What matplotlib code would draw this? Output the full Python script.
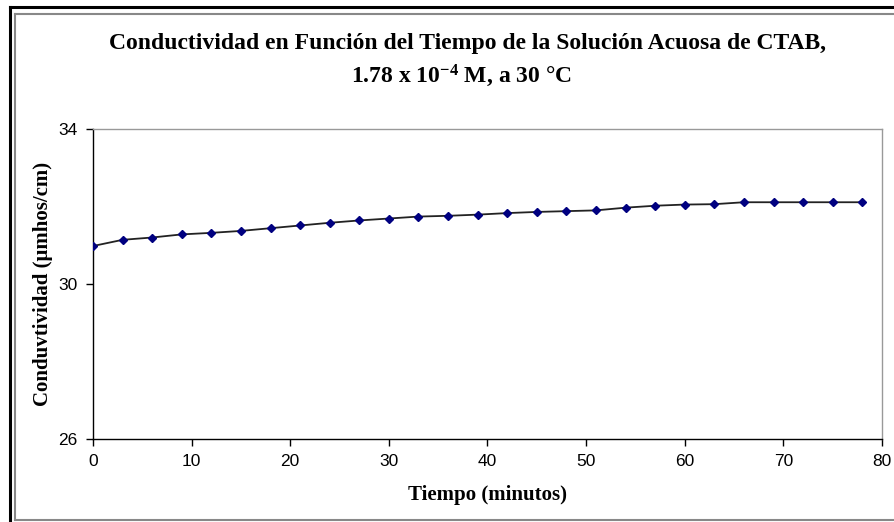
import matplotlib
matplotlib.use("Agg")
import matplotlib.pyplot as plt
from matplotlib.lines import Line2D

plt.rcParams["mathtext.fontset"] = "custom"
plt.rcParams["mathtext.rm"] = "Liberation Serif:bold"
plt.rcParams["mathtext.bf"] = "Liberation Serif:bold"
plt.rcParams["mathtext.it"] = "Liberation Serif:bold"
plt.rcParams["axes.unicode_minus"] = False

tiempo = [0, 3, 6, 9, 12, 15, 18, 21, 24, 27, 30, 33, 36, 39, 42, 45, 48, 51,
          54, 57, 60, 63, 66, 69, 72, 75, 78]
conductividad = [30.98, 31.14, 31.20, 31.28, 31.32, 31.37, 31.44, 31.51, 31.58,
                 31.64, 31.69, 31.74, 31.76, 31.79, 31.83, 31.86, 31.88, 31.90,
                 31.97, 32.02, 32.05, 32.06, 32.11, 32.11, 32.11, 32.11, 32.11]
x_ticks = [0, 10, 20, 30, 40, 50, 60, 70, 80]
y_ticks = [26, 30, 34]

W, H = 895, 522
fig = plt.figure(figsize=(W / 100, H / 100), dpi=100)
fig.patch.set_facecolor("white")

def fx(px):
    return px / W
def fy(py):
    return 1 - py / H

# outer frame lines
fig.add_artist(Line2D([fx(10), fx(10)], [fy(7), fy(530)], color="black", lw=2.2))
fig.add_artist(Line2D([fx(10), fx(900)], [fy(7), fy(7)], color="black", lw=2.2))
fig.add_artist(Line2D([fx(15), fx(15)], [fy(14), fy(520)], color="#888888", lw=1.5))
fig.add_artist(Line2D([fx(15), fx(900)], [fy(14), fy(14)], color="#888888", lw=1.5))
fig.add_artist(Line2D([fx(15), fx(900)], [fy(520), fy(520)], color="#888888", lw=1.5))

ax = fig.add_axes([fx(93), fy(439), (882 - 93) / W, (439 - 129) / H])
ax.plot(tiempo, conductividad, color="#222222", lw=1.3, marker="D", markersize=3.8,
        markerfacecolor="#000080", markeredgecolor="#000080", zorder=3)
ax.set_xlim(0, 80)
ax.set_ylim(26, 34)
ax.set_xticks(x_ticks)
ax.set_yticks(y_ticks)
ax.tick_params(direction="out", length=5, width=1, labelsize=12.5, pad=6,
               labelcolor="black")
for lab in ax.get_xticklabels() + ax.get_yticklabels():
    lab.set_fontfamily("Liberation Sans")
ax.spines["left"].set_color("black")
ax.spines["bottom"].set_color("black")
ax.spines["top"].set_color("#999999")
ax.spines["right"].set_color("#999999")
for s in ax.spines.values():
    s.set_linewidth(1.0)

ax.set_xlabel("Tiempo (minutos)", fontfamily="Liberation Serif", fontweight="bold",
              fontsize=15, labelpad=11)
ax.set_ylabel("Conduvtividad (μmhos/cm)", fontfamily="Liberation Serif",
              fontweight="bold", fontsize=15, labelpad=4)

fig.text(fx(468), fy(43), "Conductividad en Función del Tiempo de la Solución Acuosa de CTAB,",
         ha="center", va="center", fontfamily="Liberation Serif", fontweight="bold",
         fontsize=17)
fig.text(fx(461), fy(76), r"1.78 x 10$^{-4}$ M, a 30 °C",
         ha="center", va="center", fontfamily="Liberation Serif", fontweight="bold",
         fontsize=17)

fig.savefig("out.png", dpi=100)
